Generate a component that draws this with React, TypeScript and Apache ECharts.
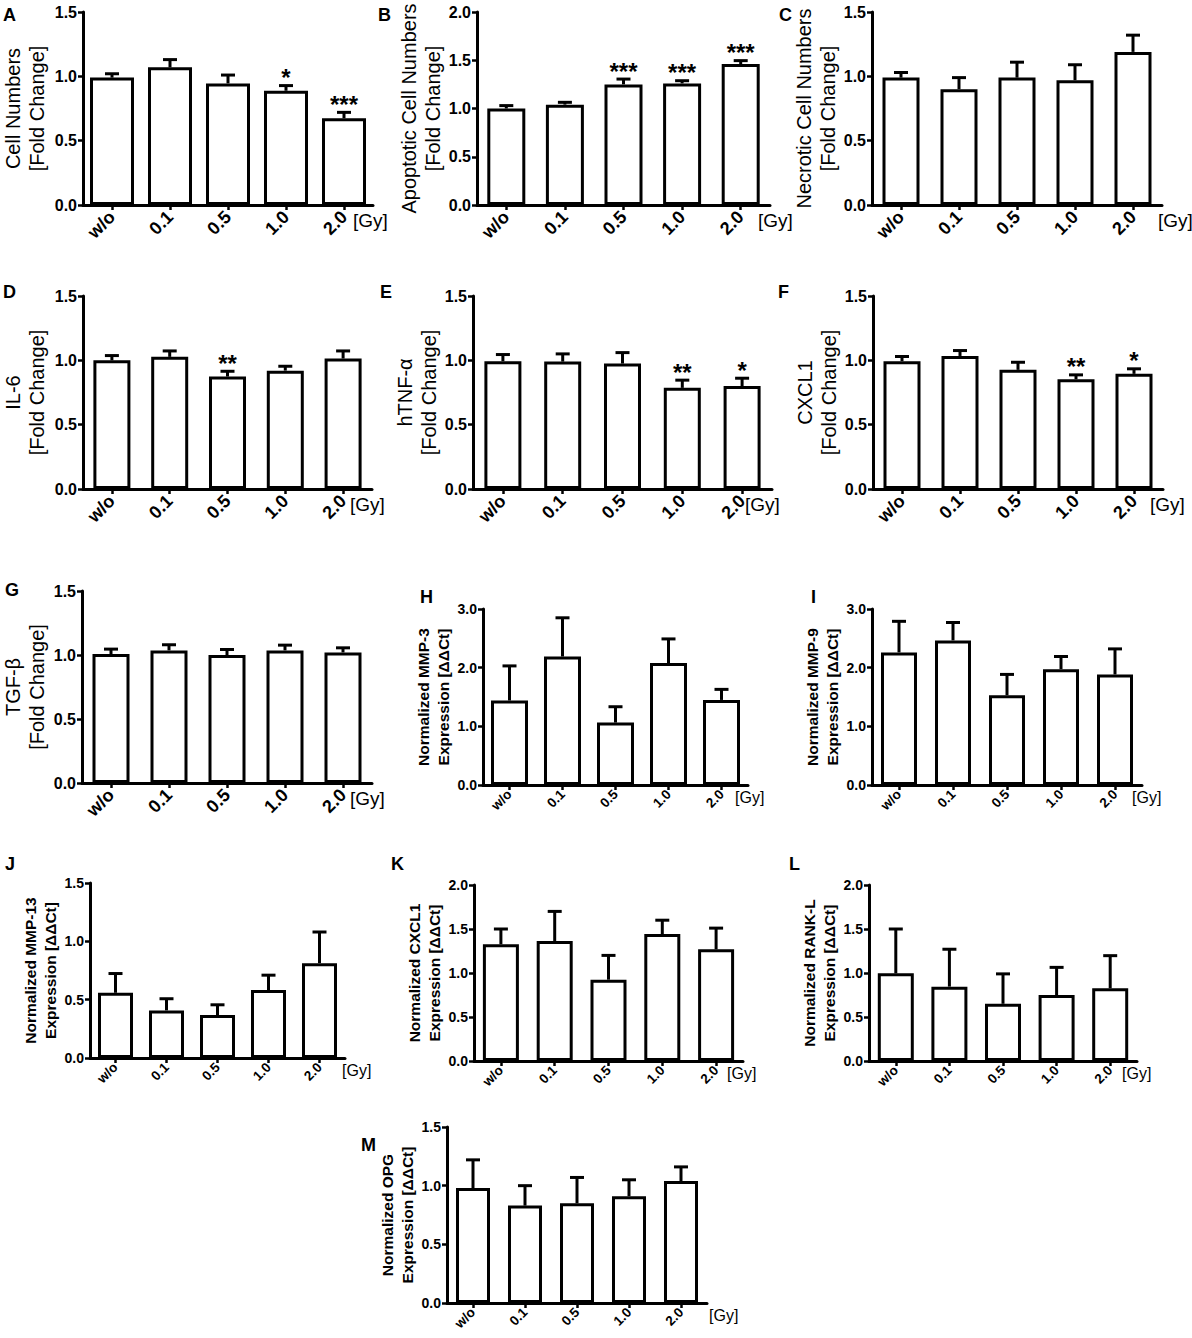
import React, { useEffect, useRef } from "react";
import * as echarts from "echarts";

const categories = ["w/o", "0.1", "0.5", "1.0", "2.0"];

// A - Cell numbers
const cellNumbers = [0.99, 1.07, 0.945, 0.888, 0.674];
const cellNumbersSem = [0.03, 0.06, 0.065, 0.04, 0.046];
const cellNumbersSig = ["", "", "", "*", "***"];
// B - Apoptotic cells
const apoptotic = [1.0, 1.04, 1.25, 1.26, 1.46];
const apoptoticSem = [0.03, 0.024, 0.055, 0.028, 0.036];
const apoptoticSig = ["", "", "***", "***", "***"];
// C - Necrotic cells
const necrotic = [0.99, 0.9, 0.99, 0.97, 1.19];
const necroticSem = [0.04, 0.09, 0.12, 0.12, 0.13];
const necroticSig = ["", "", "", "", ""];
// D - IL-6
const il6 = [1.0, 1.027, 0.874, 0.92, 1.014];
const il6Sem = [0.037, 0.046, 0.041, 0.034, 0.059];
const il6Sig = ["", "", "**", "", ""];
// E - hTNF-alpha
const tnf = [0.993, 0.99, 0.975, 0.786, 0.8];
const tnfSem = [0.052, 0.06, 0.085, 0.06, 0.061];
const tnfSig = ["", "", "", "**", "*"];
// F - CXCL1 protein
const cxcl1 = [0.993, 1.034, 0.926, 0.853, 0.895];
const cxcl1Sem = [0.037, 0.042, 0.059, 0.034, 0.039];
const cxcl1Sig = ["", "", "", "**", "*"];
// G - TGF-beta
const tgf = [1.007, 1.036, 1.0, 1.036, 1.02];
const tgfSem = [0.039, 0.044, 0.043, 0.041, 0.036];
// H - MMP-3
const mmp3 = [1.44, 2.19, 1.064, 2.08, 1.45];
const mmp3Sem = [0.59, 0.66, 0.27, 0.41, 0.18];
// I - MMP-9
const mmp9 = [2.26, 2.465, 1.53, 1.975, 1.884];
const mmp9Sem = [0.53, 0.305, 0.355, 0.215, 0.436];
// J - MMP-13
const mmp13 = [0.559, 0.408, 0.368, 0.582, 0.813];
const mmp13Sem = [0.165, 0.1, 0.088, 0.128, 0.267];
// K - CXCL1 expression
const cxcl1Expr = [1.326, 1.364, 0.924, 1.443, 1.269];
const cxcl1ExprSem = [0.174, 0.336, 0.276, 0.157, 0.241];
// L - RANK-L
const rankl = [0.996, 0.845, 0.65, 0.75, 0.826];
const ranklSem = [0.504, 0.425, 0.34, 0.314, 0.371];
// M - OPG
const opg = [0.98, 0.83, 0.85, 0.91, 1.04];
const opgSem = [0.24, 0.17, 0.22, 0.14, 0.12];

const noSig = ["", "", "", "", ""];
const FONT = '"Liberation Sans", Arial, Helvetica, sans-serif';

type Panel = {
  letter: string;
  yName: string;
  values: number[];
  sem: number[];
  sig: string[];
  max: number;
  interval: number;
  grid: [number, number, number, number];
  small: boolean;
  letterPos: [number, number];
  gyDx: number;
  nameGap: number;
  barWidth: number;
};

const panels: Panel[] = [
  { letter: "A", yName: "Cell Numbers\n[Fold Change]", values: cellNumbers, sem: cellNumbersSem, sig: cellNumbersSig, max: 1.5, interval: 0.5, grid: [81, 12, 292, 193], small: false, letterPos: [3, 6], gyDx: -20, nameGap: 34, barWidth: 44 },
  { letter: "B", yName: "Apoptotic Cell Numbers\n[Fold Change]", values: apoptotic, sem: apoptoticSem, sig: apoptoticSig, max: 2.0, interval: 0.5, grid: [477, 12, 293, 193], small: false, letterPos: [378, 6], gyDx: -12, nameGap: 32, barWidth: 38 },
  { letter: "C", yName: "Necrotic Cell Numbers\n[Fold Change]", values: necrotic, sem: necroticSem, sig: necroticSig, max: 1.5, interval: 0.5, grid: [872, 12, 290, 193], small: false, letterPos: [779, 6], gyDx: -4, nameGap: 27, barWidth: 37 },
  { letter: "D", yName: "IL-6\n[Fold Change]", values: il6, sem: il6Sem, sig: il6Sig, max: 1.5, interval: 0.5, grid: [81, 296, 291, 193], small: false, letterPos: [3, 283], gyDx: -22, nameGap: 34, barWidth: 37 },
  { letter: "E", yName: "hTNF-α\n[Fold Change]", values: tnf, sem: tnfSem, sig: tnfSig, max: 1.5, interval: 0.5, grid: [473, 296, 299, 193], small: false, letterPos: [380, 283], gyDx: -27, nameGap: 28, barWidth: 37 },
  { letter: "F", yName: "CXCL1\n[Fold Change]", values: cxcl1, sem: cxcl1Sem, sig: cxcl1Sig, max: 1.5, interval: 0.5, grid: [873, 296, 290, 193], small: false, letterPos: [778, 283], gyDx: -13, nameGap: 28, barWidth: 37 },
  { letter: "G", yName: "TGF-β\n[Fold Change]", values: tgf, sem: tgfSem, sig: noSig, max: 1.5, interval: 0.5, grid: [80, 591, 292, 192], small: false, letterPos: [5, 581], gyDx: -22, nameGap: 33, barWidth: 37 },
  { letter: "H", yName: "Normalized MMP-3\nExpression [ΔΔCt]", values: mmp3, sem: mmp3Sem, sig: noSig, max: 3.0, interval: 1.0, grid: [483, 609, 265, 176], small: true, letterPos: [420, 588], gyDx: -13, nameGap: 28, barWidth: 37 },
  { letter: "I", yName: "Normalized MMP-9\nExpression [ΔΔCt]", values: mmp9, sem: mmp9Sem, sig: noSig, max: 3.0, interval: 1.0, grid: [872, 609, 270, 176], small: true, letterPos: [811, 588], gyDx: -10, nameGap: 24, barWidth: 36 },
  { letter: "J", yName: "Normalized MMP-13\nExpression [ΔΔCt]", values: mmp13, sem: mmp13Sem, sig: noSig, max: 1.5, interval: 0.5, grid: [90, 883, 255, 175], small: true, letterPos: [5, 855], gyDx: -3, nameGap: 30, barWidth: 35 },
  { letter: "K", yName: "Normalized CXCL1\nExpression [ΔΔCt]", values: cxcl1Expr, sem: cxcl1ExprSem, sig: noSig, max: 2.0, interval: 0.5, grid: [474, 885, 269, 176], small: true, letterPos: [391, 855], gyDx: -16, nameGap: 29, barWidth: 36 },
  { letter: "L", yName: "Normalized RANK-L\nExpression [ΔΔCt]", values: rankl, sem: ranklSem, sig: noSig, max: 2.0, interval: 0.5, grid: [869, 885, 268, 176], small: true, letterPos: [789, 855], gyDx: -15, nameGap: 29, barWidth: 36 },
  { letter: "M", yName: "Normalized OPG\nExpression [ΔΔCt]", values: opg, sem: opgSem, sig: noSig, max: 1.5, interval: 0.5, grid: [447, 1127, 260, 176], small: true, letterPos: [361, 1136], gyDx: 2, nameGap: 24, barWidth: 34 },
];

function buildOption() {
  const grid: any[] = [];
  const xAxis: any[] = [];
  const yAxis: any[] = [];
  const series: any[] = [];
  const graphic: any[] = [];

  panels.forEach((p, i) => {
    const [l, t, w, h] = p.grid;
    grid.push({ left: l, top: t, width: w, height: h, containLabel: false });
    xAxis.push({
      type: "category",
      gridIndex: i,
      data: categories,
      axisLine: { show: true, lineStyle: { color: "#000", width: 3 } },
      axisTick: { show: true, alignWithLabel: true, length: 5, lineStyle: { color: "#000", width: 2.5 } },
      axisLabel: {
        rotate: 45,
        color: "#000",
        fontWeight: "bold",
        fontFamily: FONT,
        fontSize: p.small ? 13.5 : 18,
        margin: p.small ? 7 : 9,
      },
      splitLine: { show: false },
    });
    yAxis.push({
      type: "value",
      gridIndex: i,
      min: 0,
      max: p.max,
      interval: p.interval,
      axisLine: { show: true, lineStyle: { color: "#000", width: 3 } },
      axisTick: { show: true, length: 5, lineStyle: { color: "#000", width: 2.5 } },
      splitLine: { show: false },
      axisLabel: {
        color: "#000",
        fontWeight: "bold",
        fontFamily: FONT,
        fontSize: p.small ? 14 : 16,
        margin: 6,
        formatter: (v: number) => v.toFixed(1),
      },
      name: p.yName,
      nameLocation: "middle",
      nameGap: p.nameGap,
      nameTextStyle: p.small
        ? { color: "#000", fontFamily: FONT, fontWeight: "bold", fontSize: 15.5, lineHeight: 20, align: "center" }
        : { color: "#000", fontFamily: FONT, fontWeight: "normal", fontSize: 20, lineHeight: 24, align: "center" },
    });
    series.push({
      type: "bar",
      xAxisIndex: i,
      yAxisIndex: i,
      data: p.values,
      barWidth: p.barWidth,
      itemStyle: { color: "#fff", borderColor: "#000", borderWidth: 3 },
      z: 2,
    });
    series.push({
      type: "custom",
      xAxisIndex: i,
      yAxisIndex: i,
      clip: false,
      z: 3,
      data: p.values.map((v, j) => [j, v, p.sem[j]]),
      renderItem: (params: any, api: any) => {
        const j = api.value(0);
        const v = api.value(1);
        const e = api.value(2);
        const base = api.coord([j, v]);
        const top = api.coord([j, v + e]);
        const cap = 7;
        const children: any[] = [
          { type: "line", shape: { x1: base[0], y1: base[1], x2: top[0], y2: top[1] }, style: { stroke: "#000", lineWidth: 3 } },
          { type: "line", shape: { x1: top[0] - cap, y1: top[1], x2: top[0] + cap, y2: top[1] }, style: { stroke: "#000", lineWidth: 3 } },
        ];
        const s = p.sig[params.dataIndex];
        if (s) {
          children.push({
            type: "text",
            style: {
              text: s,
              x: top[0],
              y: top[1] - 8,
              align: "center",
              verticalAlign: "middle",
              fontFamily: FONT,
              fontWeight: "bold",
              fontSize: 24,
              fill: "#000",
            },
          });
        }
        return { type: "group", children };
      },
    });
    graphic.push({
      type: "text",
      left: p.letterPos[0],
      top: p.letterPos[1],
      style: { text: p.letter, fontFamily: FONT, fontWeight: "bold", fontSize: 18, fill: "#000" },
    });
    graphic.push({
      type: "text",
      x: l + w + p.gyDx,
      y: t + h + (p.small ? 12 : 15),
      style: {
        text: "[Gy]",
        fontFamily: FONT,
        fontSize: p.small ? 16 : 19,
        fill: "#000",
        align: "left",
        verticalAlign: "middle",
      },
    });
  });

  return {
    animation: false,
    backgroundColor: "#fff",
    grid,
    xAxis,
    yAxis,
    series,
    graphic,
  };
}

export default function App() {
  const ref = useRef<HTMLDivElement | null>(null);
  useEffect(() => {
    document.body.style.margin = "0";
    if (!ref.current) return;
    const chart = echarts.init(ref.current, undefined, { renderer: "svg" });
    chart.setOption(buildOption() as any);
    return () => chart.dispose();
  }, []);
  return <div ref={ref} style={{ width: 1192, height: 1338 }} />;
}
